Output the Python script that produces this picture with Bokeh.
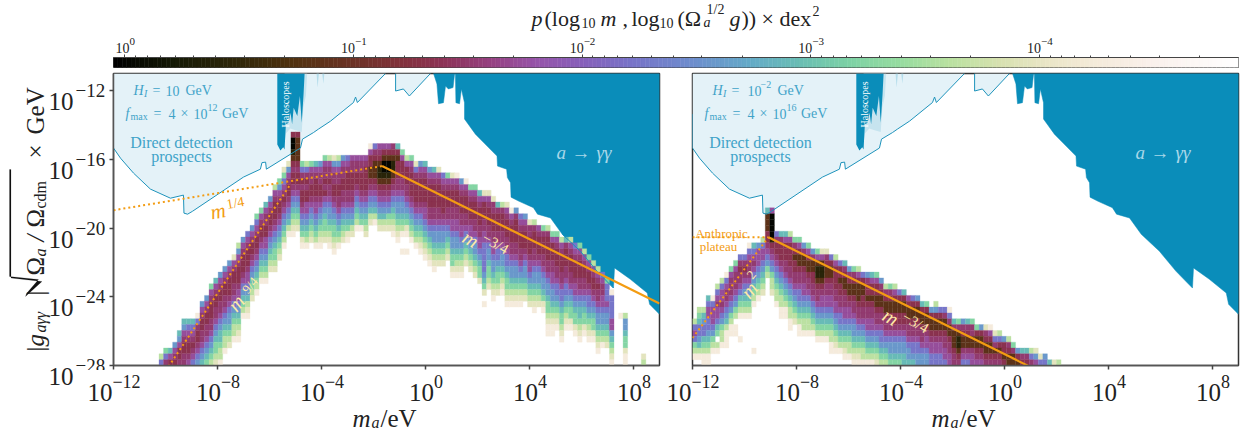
import numpy as np
from bokeh.embed import file_html
from bokeh.resources import INLINE
from bokeh.layouts import column, row
from bokeh.models import (ColumnDataSource, CustomLabelingPolicy, FixedTicker, Label, LogColorMapper, PolyAnnotation, Range1d)
from bokeh.plotting import figure
from bokeh.transform import transform

SERIF = "Liberation Serif"
X_TICKS = [-12, -8, -4, 0, 4, 8]
Y_TICKS = [-12, -16, -20, -24, -28]
CB_TICKS = [0, -1, -2, -3, -4]

# colour scale stops: (position along the bar in log10 p, colour)
CMAP_LOGP = [0.05, -0.2, -0.5, -0.72, -0.96, -1.2, -1.38, -1.6, -1.8, -1.99, -2.21, -2.47, -2.73, -2.95, -3.17, -3.39, -3.61, -3.83, -4.05, -4.27, -4.49, -4.87]
CMAP_RGB = [(0,0,0),(20,25,5),(50,40,10),(80,50,15),(105,50,35),(130,50,60),(140,50,85),(150,65,130),(150,85,170),(135,95,185),(120,115,200),(110,140,205),(100,170,200),(105,190,180),(125,210,165),(150,220,160),(185,225,160),(215,225,175),(235,230,200),(245,235,220),(250,240,235),(255,255,255)]

# density classes
LEVELS = {"a": -4.27, "b": -3.96, "c": -3.63, "d": -3.22, "e": -2.91, "f": -2.58, "g": -2.25,
          "h": -1.72, "i": -1.52, "j": -1.35, "k": -0.85, "l": -0.42, "m": -0.02}

N_X, N_Y = 120, 50
LEFT_FIRST = 10
# per column: (first row from top, classes going down)
left_columns = [
 (48,"cg"),(47,"dgi"),(47,"ehj"),(46,"fhij"),(44,"efhjji"),(42,"efhijjii"),(42,"eghijjih"),(42,"eghijihg"),
 (41,"agijjihgf"),(39,"fhijjiihgfe"),(38,"fhijjiihgfed"),(36,"dhijjjiihgfedc"),(35,"ehijjiihgfeddcb"),
 (34,"fhijjiihgfeedcca"),(33,"fhijjiihgfedcca"),(32,"fhijjjihgffedcb"),(31,"bhijjiihgfedcca"),
 (29,"cfhijjjihhgfedcba"),(28,"fhijjjihgfedca"),(27,"ghijjjihhgfecba"),(26,"fhijjihgfedcb"),
 (24,"dghijjihgfedca"),(23,"dhijjihgfedca"),(22,"ehiijjhhgfedca"),(21,"fhijjihgfedcb"),
 (19,"chijjjihgfeddcb"),(18,"dfhijjihgfedcb"),(16,"bdghijihgfedca"),(15,"bfhijjihgfeca"),
 (10,"jmmlkjijjihgfedcba"),(10,"jkkkkjijjihgfedcb"),
 (15,"dgijijjihgfedba"),(15,"cgijijjhhgfedca"),(15,"dhiijjihgfedcb"),(15,"ehijjjihhgfedca"),(15,"fhiijjihgfedcba"),
 (14,"dhiijijhgfeddcb"),(14,"chiijiihgffedcba"),(14,"bfhiijjihgfeddcba"),(14,"cfhiijjiihgfedca"),(14,"fhiijjiihgfedcb"),
 (14,"ghijjjiihgfedba"),(14,"hiijjjiihgfecb"),(14,"hiijjihgfedca"),(14,"hiijjjihgfeda"),(14,"hijjjjihgfedcb"),
 (12,"ahjjkkjihgfecb"),(12,"gijkkkjihgfeca"),(12,"hijkllkjihgfecb"),(12,"hjkmmlkjihgfecb"),(12,"hjkmmlkjihgfdcb"),
 (12,"ijkllkjihgfedcba"),(12,"ejkjjjiihgffedcba"),(13,"dhjjjiihgffedca..a"),(14,"chjjjiihgfedba..a"),
 (14,"dhijjjjihgfedca"),(15,"bgijjjjihgfedca"),(15,"fhijjjjihgfedcba"),(15,"ehijjjjihhgfedcba"),
 (16,"fhijjjjiihgfedcba"),(16,"ehijjjjiihgffedcba"),(16,"bhijjjjiihgffedcb"),(17,"ghijjjjihgffedcb"),
 (17,"dhijjjiihgfedcb"),(17,"bhijjjiihhgffeddba"),(17,"ahijjjiihhgffedcba"),(18,"fhijjjiihhgfedcba"),
 (18,"ahijjjiihgfedcb"),(19,"dhijjjihhgfedcb"),(19,"dhijjjiihgffedcb"),(20,"ehijjjiihhgfeddb"),
 (20,"bhjjjiihhgggggfedb.a"),(20,"bhijjjiihgffeddcb"),(21,"biijjjiihhgffedcba"),(22,"eijjjiihggfeddcb"),
 (22,"cijjjiihgffedcba"),(22,"bhijjjiihggfeddcba"),(23,"ahijjjiihgffedcba"),(23,"fijjjjiihgffedcba"),
 (24,"ghijjjiihgfedcba"),(24,"fhijjjihgffedcb"),(25,"biijjjihhgfedcb"),(25,"cijjjiihgffedcba"),
 (26,"hijjjihgffedcb"),(26,"dijjjiihgffedba"),(26,"cijjjjiihgffeddcbaa"),(27,"dhjjjiihhgffedcbaa"),
 (27,"dhijjjiihggfedcba"),(28,"chijjjiihggfeddcba"),(28,"eijjjiihggfedcba"),(28,"chijjjiihgfeddba"),
 (29,"ghijjjihhgfeddba"),(29,"dhijjjiihgfeedcba"),(30,"chijjiihgfeddba"),(31,"dhijjihggfedcba"),
 (32,"chijjihgfeddba"),(33,"chijiihgffedcba"),(34,"ghiihhgffedca"),(35,"dggghgffedcb"),
 (37,"agggghhfedcbaa"),(0,""),(41,"a"),(41,"cffeddbaa"),(0,""),(0,""),(0,""),(48,"bc"),
]
RIGHT_FIRST = 0
right_columns = [
 (42,"cghgdca"),(40,"cdeggfeca"),(40,"cefggedcaa"),(38,"eghhggfedcaa"),(38,"aghhhgfdca"),(36,"cghihhged.ca"),
 (35,"cghhihgfdcca"),(34,"aghiihgfecaaa"),(33,"dhiiihgfdcaa"),(32,"dhiiihgfdc.aa"),(31,"gijiihgedca...a"),
 (31,"gijihgfedca"),(29,"aghiiihgfedca"),(29,"eghihgfedca.......a"),(29,"fhhhgfedca"),(28,"cghhgfedcb"),
 (23,"ekkkjjihgfdc"),(23,"hmmmmljihgfdccb"),(27,"gijjihgfedcca"),(27,"eijjjihgfedccaa"),(27,"ehjjjiihgfedcaa"),
 (27,"chjjjjiihgfedccaa"),(28,"dijkjjiihgfedcb"),(28,"dhjkkjiihggfedcaa"),(29,"fikkjiihhgfedcca"),
 (29,"dhjkkjiihgfedcca"),(30,"fikkjjiihgfedca"),(30,"dhkllkjiihgfedca"),(30,"bhkllkjihhgfedca"),
 (30,"bijkkjiihhgfedca"),(31,"gjkkjiihhgfedccaa"),(31,"chjjjjiihhgfedcba"),(32,"gjjkjjiihggfedca"),
 (32,"eijkkjiihhgfedcba"),(33,"fijkkjihhgfedcca"),(33,"dijkkjiihgffedcba"),(33,"chjkkkjiihgfedcba"),
 (34,"gjkkjjiihgfedcca"),(34,"fijjkjiihhgfedca"),(34,"ehjjkjiihhgfedca"),(34,"dhjjkkjiihgfedcb"),
 (35,"fijkkjiihggfedc"),(36,"cijkkjiihgfedc"),(36,"dijkkjiihgffed"),(36,"chjkkjjihgffed"),
 (37,"gjkkjjihgffed"),(37,"ejkkjjihgffee"),(38,"hjkkjiihgffe"),(38,"gjkkjiihggfe"),(38,"fjkkjiihggff"),
 (39,"ejkkjiihgff"),(39,"djkkjihhgff"),(40,"fjkkjihhgg"),(39,"cfjkkjihhgg"),(40,"gjkkjihhgg"),(40,"gikkjiihhg"),
 (40,"agikkjiihh"),(42,"eikkkjii"),(42,"dikllkji"),(42,"fijkkihg"),(42,"eijkkihg"),(42,"diikkihh"),
 (43,"djkkjih"),(43,"fjkkjih"),(43,"bijkkji"),(43,"ahjkkji"),(44,"bgikji"),(44,"cgjkji"),(45,"fjjkj"),
 (45,"cijkk"),(46,"dikk"),(47,"fjk"),(47,"eij"),(47,"eij"),(47,"cgi"),(47,"bfh"),(48,"bg"),(48,"fg"),
 (49,"e"),(49,"b"),(49,"c"),
]

# direct-detection reach (log10 m, log10 g)
reach_m = [-12,-12,-11.73,-11.23,-10.58,-9.81,-9.31,-9.29,-9.15,-8.96,-7.0,-6.35,-6.29,-6.15,-6.12,-4.81,-4.73,-4.31,-4.12,-3.65,-2.77,-2.69,-2.62,-1.54]
reach_g = [-13.36,-15.34,-15.93,-16.80,-17.73,-18.26,-18.08,-19.13,-19.19,-19.02,-17.03,-16.57,-16.19,-16.16,-16.57,-15.34,-14.82,-14.44,-14.24,-13.77,-12.69,-12.37,-12.69,-11.0]
reach2_m = [-1.15,-1.15,-0.85,-0.62,0.19]
reach2_g = [-11,-12.02,-11.9,-12.31,-11]
# haloscope exclusion
halo_m = [-5.70,-5.70,-5.58,-5.47,-5.42,-5.37,-5.26,-5.19,-5.13,-5.07,-4.93,-4.83,-4.76,-4.69,-4.65]
halo_g = [-11,-15.13,-15.48,-15.29,-15.42,-13.96,-13.87,-13.29,-13.96,-12.99,-13.48,-12.31,-13.87,-12.21,-11]
halo_faint_m = [-5.42,-5.37,-5.2,-5.0,-4.76,-4.7,-4.6,-4.55,-5.42]
halo_faint_g = [-15.0,-14.5,-14.2,-14.3,-14.4,-13.0,-12.3,-11,-11]
halo_spikes_m = [[-4.19,-4.15,-4.1],[-3.97,-3.93,-3.89]]
halo_spikes_g = [[-11,-11.83,-11],[-11,-11.6,-11]]
# a -> gamma gamma exclusion
decay_m = [0.31,0.44,0.5,0.69,0.77,0.88,1.06,1.12,1.15,1.17,1.31,1.38,1.5,1.5,1.92,2.75,2.77,3.12,3.15,3.27,3.29,3.58,4.15,4.31,4.81,5.26,5.96,6.6,7.04,7.23,7.27,7.88,8.53,8.62,9,9]
decay_g = [-11,-11.61,-12.76,-12.70,-11.73,-11.90,-11.82,-11,-11,-12.70,-12.76,-11.90,-12.70,-13.65,-14.53,-15.81,-16.39,-16.57,-17.06,-17.36,-18.2,-18.43,-18.81,-19.19,-19.41,-20.36,-21.35,-22.52,-23.2,-23.49,-22.32,-22.98,-23.78,-24.44,-25.02,-11]
# scaling lines
left_q_m = [-12,-1.67];   left_q_g = [-18.96,-16.39]
left_r_m = [-9.88,-5.19]; left_r_g = [-28.06,-17.44]
left_d_m = [-1.67,9];     left_d_g = [-16.39,-24.39]
right_p_m = [-12,-9.08];  right_p_g = [-20.53,-20.53]
right_r_m = [-12,-9.08];  right_r_g = [-26.4,-20.53]
right_d_m = [-9.08,1.0];  right_d_g = [-20.53,-28.09]

LIGHT, EDGE, DARK = "#E4F2F8", "#1E93BB", "#0A8DBA"
ORANGE, CREAM, TEXTBLUE = "#F39C12", "#FFE9A6", "#3FA3C8"
FG = "#222222"

def pw(a):
    return [10.0 ** v for v in a]

stops_x = np.array(CMAP_LOGP[::-1])
stops_c = np.array(CMAP_RGB[::-1], dtype=float)
grid = np.linspace(CMAP_LOGP[-1], CMAP_LOGP[0], 256)
palette = ["#%02x%02x%02x" % tuple(int(round(np.interp(g, stops_x, stops_c[:, k]))) for k in range(3)) for g in grid]
mapper = LogColorMapper(palette=palette, low=10 ** CMAP_LOGP[-1], high=10 ** CMAP_LOGP[0])

def hide_axis_labels(ax, ticks):
    ax.major_label_overrides = {10.0 ** t: "" for t in ticks}
    ax.major_label_text_font_size = "0px"
    ax.major_label_standoff = 0
    ax.major_label_policy = CustomLabelingPolicy(code="for (const i of Array.from(indices)) indices.unset(i); return indices")

def exp_text(e):
    return str(e).replace("-", "−")

# label positions are page pixels, converted to frame-relative pixels of the figure that holds them
def add_label(p, fx, fb, x, y, text, size, italic=False, color=FG, angle=0, align="left"):
    p.add_layout(Label(x=x - fx, y=fb - y, x_units="screen", y_units="screen", text=text,
                       text_font=SERIF, text_font_size=f"{size}px", text_font_style="italic" if italic else "normal",
                       text_color=color, angle=angle, angle_units="deg", text_align=align, text_baseline="alphabetic"))

# tick text anchored on the figure's own log scale
def x_tick_text(p, t, base_y, text, size, x_offset):
    p.add_layout(Label(x=10.0 ** t, y=base_y, x_units="data", y_units="data", x_offset=x_offset, text=text,
                       text_font=SERIF, text_font_size=f"{size}px", text_color=FG, text_baseline="alphabetic"))

def y_tick_text(p, t, x, text, size, y_offset, align):
    p.add_layout(Label(x=x, y=10.0 ** t, x_units="data", y_units="data", y_offset=y_offset, text=text,
                       text_font=SERIF, text_font_size=f"{size}px", text_color=FG, text_align=align, text_baseline="alphabetic"))

def strip(w, h, xr, yr, xlog=False, ylog=False):
    s = figure(output_backend="svg", toolbar_location=None, x_axis_type="log" if xlog else "linear",
               y_axis_type="log" if ylog else "linear", x_axis_location=None, y_axis_location=None,
               x_range=xr, y_range=yr, frame_width=w, frame_height=h, min_border_left=0, min_border_right=0,
               min_border_top=0, min_border_bottom=0, outline_line_color=None, border_fill_color=None,
               background_fill_color=None, frame_align=False)
    s.grid.visible = False
    return s

def panel(left_border, right_border):
    p = figure(output_backend="svg", toolbar_location=None, x_axis_type="log", y_axis_type="log",
               x_range=Range1d(1e-12, 1e9), y_range=Range1d(1e-28, 1e-11),
               frame_width=546, frame_height=292, min_border_left=left_border, min_border_right=right_border,
               min_border_top=3, min_border_bottom=5, background_fill_color="white", border_fill_color="white",
               frame_align=False)
    p.grid.visible = False
    p.outline_line_color = "#333333"
    p.outline_line_width = 1.5
    for ax, ticks in ((p.xaxis[0], X_TICKS), (p.yaxis[0], Y_TICKS)):
        ax.ticker = FixedTicker(ticks=[10.0 ** t for t in ticks], minor_ticks=[])
        hide_axis_labels(ax, ticks)
        ax.major_tick_in = 0
        ax.major_tick_out = 4
        ax.major_tick_line_color = "#444444"
        ax.major_tick_line_width = 1.5
        ax.minor_tick_line_color = None
        ax.axis_line_color = "#555555"
        ax.axis_line_width = 1.5
    return p

def heat(p, columns, first):
    dx, dy = 21.0 / N_X, 17.0 / N_Y
    L, R, T, B, V = [], [], [], [], []
    for k, (top, s) in enumerate(columns):
        c = first + k
        for i, ch in enumerate(s):
            if ch == ".":
                continue
            r = top + i
            L.append(10 ** (-12 + c * dx)); R.append(10 ** (-12 + (c + 1) * dx))
            T.append(10 ** (-11 - r * dy)); B.append(10 ** (-11 - (r + 1) * dy))
            V.append(10 ** LEVELS[ch])
    src = ColumnDataSource(dict(left=L, right=R, top=T, bottom=B, v=V))
    p.quad(left="left", right="right", top="top", bottom="bottom", source=src,
           fill_color=transform("v", mapper), line_color=transform("v", mapper), line_width=0.3)

def backdrop(p):
    p.patch(pw(decay_m), pw(decay_g), fill_color=DARK, line_color=DARK, line_width=0.5)
    p.patch(pw(reach_m + [-12]), pw(reach_g + [-11]), fill_color=LIGHT, line_color=None)
    p.patch(pw(reach2_m), pw(reach2_g), fill_color=LIGHT, line_color=None)
    p.patch(pw(halo_faint_m), pw(halo_faint_g), fill_color="#C6E4EF", line_color=None)
    p.patches([pw(a) for a in halo_spikes_m], [pw(a) for a in halo_spikes_g], fill_color="#B5DDEB", line_color=None)
    p.patch(pw(halo_m), pw(halo_g), fill_color=DARK, line_color=None)

def outlines(p):
    p.line(pw(reach_m), pw(reach_g), line_color=EDGE, line_width=1)
    p.line(pw(reach2_m), pw(reach2_g), line_color=EDGE, line_width=1)

def panel_text(p, fx, fb, shift, h_ten_x, h_sup, f_sup):
    T = TEXTBLUE
    add_label(p, fx, fb, 133 + shift, 90, "H", 14, True, T)
    add_label(p, fx, fb, 143.5 + shift, 93, "I", 10, True, T)
    add_label(p, fx, fb, 152 + shift, 90, "=", 14, False, T)
    add_label(p, fx, fb, h_ten_x + shift, 90, "10", 14, False, T)
    if h_sup:
        add_label(p, fx, fb, 181 + shift, 84, h_sup, 10, False, T)
        add_label(p, fx, fb, 198 + shift, 90, "GeV", 14, False, T)
    else:
        add_label(p, fx, fb, 185 + shift, 90, "GeV", 14, False, T)
    add_label(p, fx, fb, 125 + shift, 113, "f", 14, True, T)
    add_label(p, fx, fb, 130 + shift, 116, "max", 10, False, T)
    add_label(p, fx, fb, 153 + shift, 113, "=", 14, False, T)
    add_label(p, fx, fb, 168 + shift, 113, "4", 14, False, T)
    add_label(p, fx, fb, 180 + shift, 113, "×", 14, False, T)
    add_label(p, fx, fb, 193 + shift, 113, "10", 14, False, T)
    add_label(p, fx, fb, 207 + shift, 107, f_sup, 10, False, T)
    add_label(p, fx, fb, 221.5 + shift, 113, "GeV", 14, False, T)
    add_label(p, fx, fb, 181 + shift, 142, "Direct detection", 16, False, T, align="center")
    add_label(p, fx, fb, 181 + shift, 156, "prospects", 16, False, T, align="center")
    add_label(p, fx, fb, 285 + shift, 127, "Haloscopes", 10, False, "#FFFFFF", angle=90)
    W = "#A9D8E9"
    add_label(p, fx, fb, 556 + shift, 152, "a", 19, True, W)
    add_label(p, fx, fb, 571 + shift, 152, "→", 19, False, W)
    add_label(p, fx, fb, 596 + shift, 152, "γγ", 19, True, W)

PAGE_BOTTOM = 428
def x_strip(width, frame_left, x0, shift):
    left_dec = (x0 - frame_left) / 26.0
    s = strip(width, PAGE_BOTTOM - 370, Range1d(10 ** (-12 - left_dec), 10 ** (9 + 2 / 26.0)),
              Range1d(0, PAGE_BOTTOM - 370), xlog=True)
    for t in X_TICKS:
        w = 24 + 18 * (0.564 * (t < 0)) + 9 * len(str(abs(t)))
        x_tick_text(s, t, PAGE_BOTTOM - 392, "10", 25, -w / 2)
        x_tick_text(s, t, PAGE_BOTTOM - 381, exp_text(t), 18, -w / 2 + 25)
    add_label(s, frame_left, PAGE_BOTTOM, 352 + shift, 418, "m", 25, True)
    add_label(s, frame_left, PAGE_BOTTOM, 371 + shift, 422, "a", 16, True)
    add_label(s, frame_left, PAGE_BOTTOM, 380 + shift, 418, "/eV", 25)
    return s

# --- title strip with colour-bar labels ---
cb_scale = 1125 / 4.92
title = strip(1240, 53, Range1d(10 ** (0.05 + 113 / cb_scale), 10 ** (-4.87 - 2 / cb_scale)), Range1d(0, 53), xlog=True)
for t in CB_TICKS:
    w = 13.5 + 11 * (0.564 * (t < 0)) + 5.5
    x_tick_text(title, t, 5.5, "10", 14, -w / 2)
    x_tick_text(title, t, 12, exp_text(t), 11, -w / 2 + 14)
for x, y, t, s, it in [(531, 18, "p", 22, True), (544, 18, "(log", 22, False), (581, 22, "10", 14, False),
                       (600, 18, "m", 22, True), (622, 18, ",", 22, False), (631, 18, "log", 22, False),
                       (659, 22, "10", 14, False), (677, 18, "(Ω", 22, False), (703, 22, "a", 14, True),
                       (706, 9, "1/2", 14, False), (729, 18, "g", 22, True), (741, 18, "))", 22, False),
                       (761, 18, "×", 22, False), (779, 18, "dex", 22, False), (812, 10, "2", 14, False)]:
    add_label(title, 0, 53, x, y, t, s, it)

# --- colour bar ---
cb = figure(output_backend="svg", toolbar_location=None, x_axis_type="log", x_axis_location="above",
            x_range=Range1d(10 ** 0.05, 10 ** -4.87), y_range=Range1d(0, 1), frame_width=1125, frame_height=10,
            min_border_left=113, min_border_right=2, min_border_top=4, min_border_bottom=3, border_fill_color="white",
            frame_align=False)
cb.grid.visible = False
cb.yaxis.visible = False
cb.outline_line_color = "#444444"
edges = np.linspace(-4.87, 0.05, 257)
cb.quad(left=10 ** edges[:-1], right=10 ** edges[1:], top=1, bottom=0, fill_color=palette, line_color=palette, line_width=0.5)
cb.xaxis[0].ticker = FixedTicker(ticks=[10.0 ** t for t in CB_TICKS],
                                 minor_ticks=[m * 10.0 ** t for t in [0, -1, -2, -3, -4, -5] for m in (2, 3, 4, 5, 6, 7, 8, 9)])
hide_axis_labels(cb.xaxis[0], CB_TICKS)
cb.xaxis[0].major_tick_in = 0
cb.xaxis[0].major_tick_out = 3
cb.xaxis[0].minor_tick_in = 0
cb.xaxis[0].minor_tick_out = 2
cb.xaxis[0].axis_line_color = "#444444"
cb.xaxis[0].major_tick_line_color = "#444444"
cb.xaxis[0].minor_tick_line_color = "#444444"

# --- y labels: two strips so that the x tick labels can sit under the exponents ---
y_scale = 292 / 17.0
y_top = 10 ** (-11 + 3 / y_scale)
A = strip(74, PAGE_BOTTOM - 70, Range1d(0, 74), Range1d(10 ** (-28 - (PAGE_BOTTOM - 365) / y_scale), y_top), ylog=True)
B = strip(35, 300, Range1d(74, 109), Range1d(10 ** (-28 - 5 / y_scale), y_top), ylog=True)
for t in Y_TICKS:
    y_tick_text(A, t, 73, "10", 25, -11, "right")
    y_tick_text(B, t, 75, exp_text(t), 19, 0, "left")
for x, y, t, s, it in [(35, 351, "|", 25, False), (35, 346, "g", 25, True), (40, 332, "aγγ", 16, True), (35, 295, "|", 25, False),
                       (35, 275, "Ω", 25, False), (40, 256, "a", 16, True), (35, 241, "/", 25, True), (35, 227, "Ω", 25, False),
                       (40, 208, "cdm", 16, False), (35, 158, "×", 25, False), (35, 134, "GeV", 25, False)]:
    add_label(A, 0, PAGE_BOTTOM, x, y, t, s, it, angle=90)
rad_x = [25, 41.5, 10.5, 10.5, 9, 9, 38, 26]
rad_y = [296, 281, 277.5, 169, 169, 276, 279, 293]
A.add_layout(PolyAnnotation(xs=rad_x, ys=[PAGE_BOTTOM - v for v in rad_y],
                            xs_units="screen", ys_units="screen", fill_color="#111111", fill_alpha=1, line_color="#111111", line_width=0.5))

FB = 365
# --- left panel ---
p1 = panel(4, 2)
backdrop(p1)
heat(p1, left_columns, LEFT_FIRST)
outlines(p1)
p1.line(pw(decay_m[25:30]), pw(decay_g[25:30]), line_color=EDGE, line_width=1)
p1.line(pw(left_q_m), pw(left_q_g), line_color=ORANGE, line_width=2, line_dash="2 3")
p1.line(pw(left_r_m), pw(left_r_g), line_color=ORANGE, line_width=2, line_dash="2 3")
p1.line(pw(left_d_m), pw(left_d_g), line_color=ORANGE, line_width=2.2)
panel_text(p1, 113, FB, 0, 165, None, "12")
add_label(p1, 113, FB, 210, 212, "m", 21, True, ORANGE, angle=10)
add_label(p1, 113, FB, 226, 204, "1/4", 14, False, ORANGE, angle=10)
add_label(p1, 113, FB, 231, 308, "m", 20, True, CREAM, angle=50)
add_label(p1, 113, FB, 244, 291, "9/4", 13, False, CREAM, angle=50)
add_label(p1, 113, FB, 464, 235, "m", 20, True, CREAM, angle=-30)
add_label(p1, 113, FB, 483, 236, "−3/4", 15, False, CREAM, angle=-30)

# --- right panel ---
p2 = panel(692 - (113 + 546 + 2), 2)
p2.yaxis.visible = False
backdrop(p2)
heat(p2, right_columns, RIGHT_FIRST)
outlines(p2)
p2.line(pw(right_p_m), pw(right_p_g), line_color=ORANGE, line_width=2, line_dash="2 3")
p2.line(pw(right_r_m), pw(right_r_g), line_color=ORANGE, line_width=2, line_dash="2 3")
p2.line(pw(right_d_m), pw(right_d_g), line_color=ORANGE, line_width=2.2)
panel_text(p2, 692, FB, 579, 168, "−2", "16")
add_label(p2, 692, FB, 744, 295, "m", 20, True, CREAM, angle=50)
add_label(p2, 692, FB, 749, 277, "2", 13, False, CREAM, angle=50)
add_label(p2, 692, FB, 884, 313, "m", 20, True, CREAM, angle=-30)
add_label(p2, 692, FB, 903, 315, "−3/4", 15, False, CREAM, angle=-30)
add_label(p2, 692, FB, 721, 233, "Anthropic", 13, False, ORANGE, align="center")
add_label(p2, 692, FB, 718, 246, "plateau", 13, False, ORANGE, align="center")

xs1 = x_strip(661 - 74, 74, 113, 0)
xs2 = x_strip(1240 - 661, 661, 692, 579)

main = row(A, column(row(B, p1, p2, spacing=0), row(xs1, xs2, spacing=0), spacing=0), spacing=0)
page = column(title, cb, main, spacing=0)
open("out.html", "w").write(file_html(page, INLINE))
